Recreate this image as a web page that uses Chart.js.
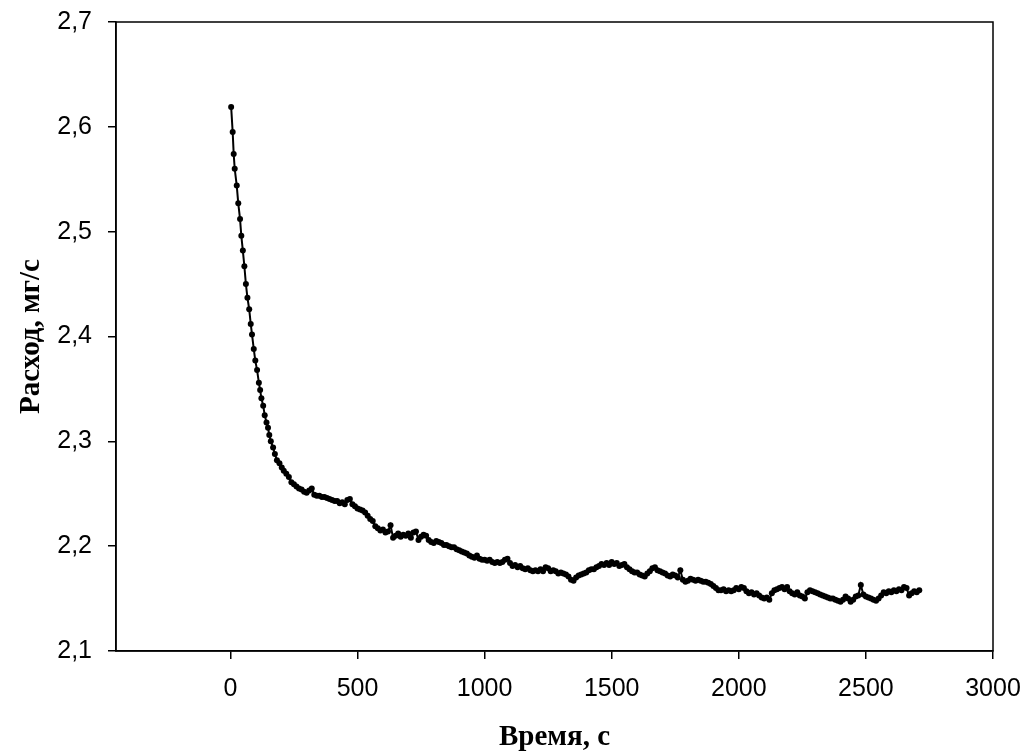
<!DOCTYPE html>
<html>
<head>
<meta charset="utf-8">
<script src="https://cdn.jsdelivr.net/npm/chart.js@4.4.1/dist/chart.umd.min.js"></script>
<style>
  html, body { margin: 0; padding: 0; background: #fff; }
  #wrap { width: 1023px; height: 756px; position: relative; }
</style>
</head>
<body>
<div id="wrap"><canvas id="c"></canvas></div>
<script>
// ---- data ----
const times = [
  3, 9, 13, 17, 25, 31, 38, 43, 49, 55, 61, 67, 74, 80, 85, 92, 98, 105, 112, 117,
  122, 129, 135, 142, 148, 153, 159, 168, 175, 183, 193, 202, 210,
  220, 230, 240, 250, 260, 270, 280, 290, 300, 310, 320, 330, 340, 350, 360, 370, 380, 390,
  400, 410, 420, 430, 440, 450, 460, 470, 480, 490, 500, 510, 520, 530, 540, 550, 560, 570, 580, 590,
  600, 610, 620, 630, 640, 650, 660, 670, 680, 690, 700, 710, 720, 730, 740, 750, 760, 770, 780, 790,
  800, 810, 820, 830, 840, 850, 860, 870, 880, 890, 900, 910, 920, 930, 940, 950, 960, 970, 980, 990,
  1000, 1010, 1020, 1030, 1040, 1050, 1060, 1070, 1080, 1090, 1100, 1110, 1120, 1130, 1140, 1150, 1160, 1170, 1180, 1190,
  1200, 1210, 1220, 1230, 1240, 1250, 1260, 1270, 1280, 1290, 1300, 1310, 1320, 1330, 1340, 1350, 1360, 1370, 1380, 1390,
  1400, 1410, 1420, 1430, 1440, 1450, 1460, 1470, 1480, 1490, 1500, 1510, 1520, 1530, 1540, 1550, 1560, 1570, 1580, 1590,
  1600, 1610, 1620, 1630, 1640, 1650, 1660, 1670, 1680, 1690, 1700, 1710, 1720, 1730, 1740, 1750, 1760, 1770, 1780, 1790,
  1800, 1810, 1820, 1830, 1840, 1850, 1860, 1870, 1880, 1890, 1900, 1910, 1920, 1930, 1940, 1950, 1960, 1970, 1980, 1990,
  2000, 2010, 2020, 2030, 2040, 2050, 2060, 2070, 2080, 2090, 2100, 2110, 2120, 2130, 2140, 2150, 2160, 2170, 2180, 2190,
  2200, 2210, 2220, 2230, 2240, 2250, 2260, 2270, 2280, 2290, 2300, 2310, 2320, 2330, 2340, 2350, 2360, 2370, 2380, 2390,
  2400, 2410, 2420, 2430, 2440, 2450, 2460, 2470, 2480, 2490, 2500, 2510, 2520, 2530, 2540, 2550, 2560, 2570, 2580, 2590,
  2600, 2610, 2620, 2630, 2640, 2650, 2660, 2670, 2680, 2690, 2700, 2710
];
const flowRate = [
  2.619, 2.595, 2.574, 2.560, 2.544, 2.527, 2.512, 2.496, 2.482, 2.467, 2.450, 2.437, 2.426, 2.412, 2.402, 2.388, 2.377, 2.368, 2.356, 2.349,
  2.341, 2.334, 2.325, 2.318, 2.313, 2.306, 2.300, 2.294, 2.288, 2.282, 2.279, 2.275, 2.272,
  2.269, 2.266, 2.261, 2.259, 2.257, 2.255, 2.254, 2.252, 2.251, 2.253, 2.255, 2.249, 2.248, 2.248, 2.247, 2.247, 2.246, 2.245,
  2.244, 2.243, 2.243, 2.241, 2.242, 2.240, 2.244, 2.245, 2.240, 2.238, 2.236, 2.235, 2.234, 2.232, 2.229, 2.226, 2.224, 2.219, 2.217, 2.215,
  2.216, 2.213, 2.214, 2.220, 2.208, 2.210, 2.212, 2.209, 2.211, 2.210, 2.212, 2.208, 2.213, 2.214, 2.206, 2.209, 2.211, 2.210, 2.206, 2.204,
  2.203, 2.205, 2.204, 2.203, 2.201, 2.201, 2.200, 2.199, 2.199, 2.197, 2.196, 2.195, 2.194, 2.193, 2.191, 2.190, 2.189, 2.191, 2.188, 2.187,
  2.187, 2.186, 2.187, 2.185, 2.184, 2.185, 2.184, 2.185, 2.187, 2.188, 2.184, 2.181, 2.182, 2.180, 2.181, 2.179, 2.178, 2.179, 2.177, 2.176,
  2.177, 2.176, 2.178, 2.176, 2.180, 2.179, 2.176, 2.177, 2.176, 2.174, 2.175, 2.174, 2.173, 2.171, 2.168, 2.167, 2.170, 2.172, 2.173, 2.174,
  2.175, 2.177, 2.178, 2.178, 2.180, 2.181, 2.183, 2.182, 2.184, 2.182, 2.185, 2.183, 2.184, 2.181, 2.182, 2.183, 2.180, 2.178, 2.176, 2.175,
  2.175, 2.173, 2.172, 2.171, 2.174, 2.176, 2.179, 2.180, 2.177, 2.176, 2.175, 2.174, 2.172, 2.171, 2.173, 2.172, 2.170, 2.177, 2.168, 2.166,
  2.167, 2.169, 2.168, 2.167, 2.168, 2.167, 2.166, 2.166, 2.165, 2.164, 2.162, 2.160, 2.158, 2.158, 2.159, 2.157, 2.158, 2.157, 2.158, 2.160,
  2.159, 2.161, 2.160, 2.157, 2.155, 2.156, 2.154, 2.155, 2.153, 2.151, 2.150, 2.151, 2.149, 2.155, 2.158, 2.159, 2.160, 2.161, 2.159, 2.161,
  2.157, 2.155, 2.154, 2.156, 2.153, 2.152, 2.150, 2.156, 2.158, 2.157, 2.156, 2.155, 2.154, 2.153, 2.152, 2.151, 2.150, 2.150, 2.149, 2.148,
  2.147, 2.149, 2.152, 2.150, 2.147, 2.149, 2.152, 2.153, 2.163, 2.154, 2.152, 2.151, 2.150, 2.149, 2.148, 2.150, 2.153, 2.156, 2.155, 2.157,
  2.156, 2.158, 2.157, 2.159, 2.158, 2.161, 2.160, 2.153, 2.155, 2.157, 2.156, 2.158
];
const xTickValues = [0, 500, 1000, 1500, 2000, 2500, 3000];
const xTickLabels = ['0', '500', '1000', '1500', '2000', '2500', '3000'];
const yTickValues = [2.1, 2.2, 2.3, 2.4, 2.5, 2.6, 2.7];
const yTickLabels = ['2,1', '2,2', '2,3', '2,4', '2,5', '2,6', '2,7'];
const xTitle = 'Время, с';
const yTitle = 'Расход, мг/с';

const points = times.map((t, i) => ({ x: t, y: flowRate[i] }));

const framePlugin = {
  id: 'frame',
  afterDraw(chart) {
    const a = chart.chartArea, ctx = chart.ctx;
    ctx.save();
    ctx.strokeStyle = '#000';
    ctx.lineWidth = 1.5;
    ctx.strokeRect(a.left, a.top, a.right - a.left, a.bottom - a.top);
    ctx.restore();
  }
};

const tickFont = { family: 'Liberation Sans, Arial, sans-serif', size: 25 };
const titleFont = { family: 'Liberation Serif, Times New Roman, serif', size: 29, weight: 'bold' };

new Chart(document.getElementById('c'), {
  type: 'line',
  data: {
    datasets: [{
      data: points,
      borderColor: '#000',
      borderWidth: 2,
      backgroundColor: '#000',
      pointRadius: 3,
      pointBorderWidth: 0,
      pointBackgroundColor: '#000',
      tension: 0,
      fill: false
    }]
  },
  plugins: [framePlugin],
  options: {
    responsive: true,
    maintainAspectRatio: false,
    animation: false,
    devicePixelRatio: 1,
    layout: { padding: { left: 0, right: 30, top: 22, bottom: 0 } },
    plugins: { legend: { display: false }, tooltip: { enabled: false } },
    scales: {
      x: {
        type: 'linear',
        min: -450,
        max: 3000,
        afterFit(scale) { scale.height = 105; scale.paddingLeft = 0; scale.paddingRight = 0; },
        afterBuildTicks(scale) { scale.ticks = xTickValues.map(v => ({ value: v })); },
        ticks: {
          color: '#000',
          padding: 15,
          maxRotation: 0,
          autoSkip: false,
          font: tickFont,
          callback(v) { const i = xTickValues.indexOf(v); return i >= 0 ? xTickLabels[i] : ''; }
        },
        grid: { drawOnChartArea: false, drawTicks: true, tickLength: 8, color: '#000', lineWidth: 1.5 },
        border: { display: true, color: '#000', width: 1.5 },
        title: {
          display: true, text: xTitle, color: '#000',
          font: titleFont,
          padding: { top: 1, bottom: 1 }
        }
      },
      y: {
        type: 'linear',
        min: 2.1,
        max: 2.7,
        afterFit(scale) { scale.width = 116; scale.paddingTop = 0; scale.paddingBottom = 0; },
        afterBuildTicks(scale) { scale.ticks = yTickValues.map(v => ({ value: v })); },
        ticks: {
          color: '#000',
          padding: 16,
          autoSkip: false,
          font: tickFont,
          callback(v, idx) { return yTickLabels[idx] !== undefined ? yTickLabels[idx] : ''; }
        },
        grid: { drawOnChartArea: false, drawTicks: true, tickLength: 8, color: '#000', lineWidth: 1.5 },
        border: { display: true, color: '#000', width: 1.5 },
        title: {
          display: true, text: yTitle, color: '#000',
          font: titleFont,
          padding: { top: 14, bottom: 14 }
        }
      }
    }
  }
});
</script>
</body>
</html>
